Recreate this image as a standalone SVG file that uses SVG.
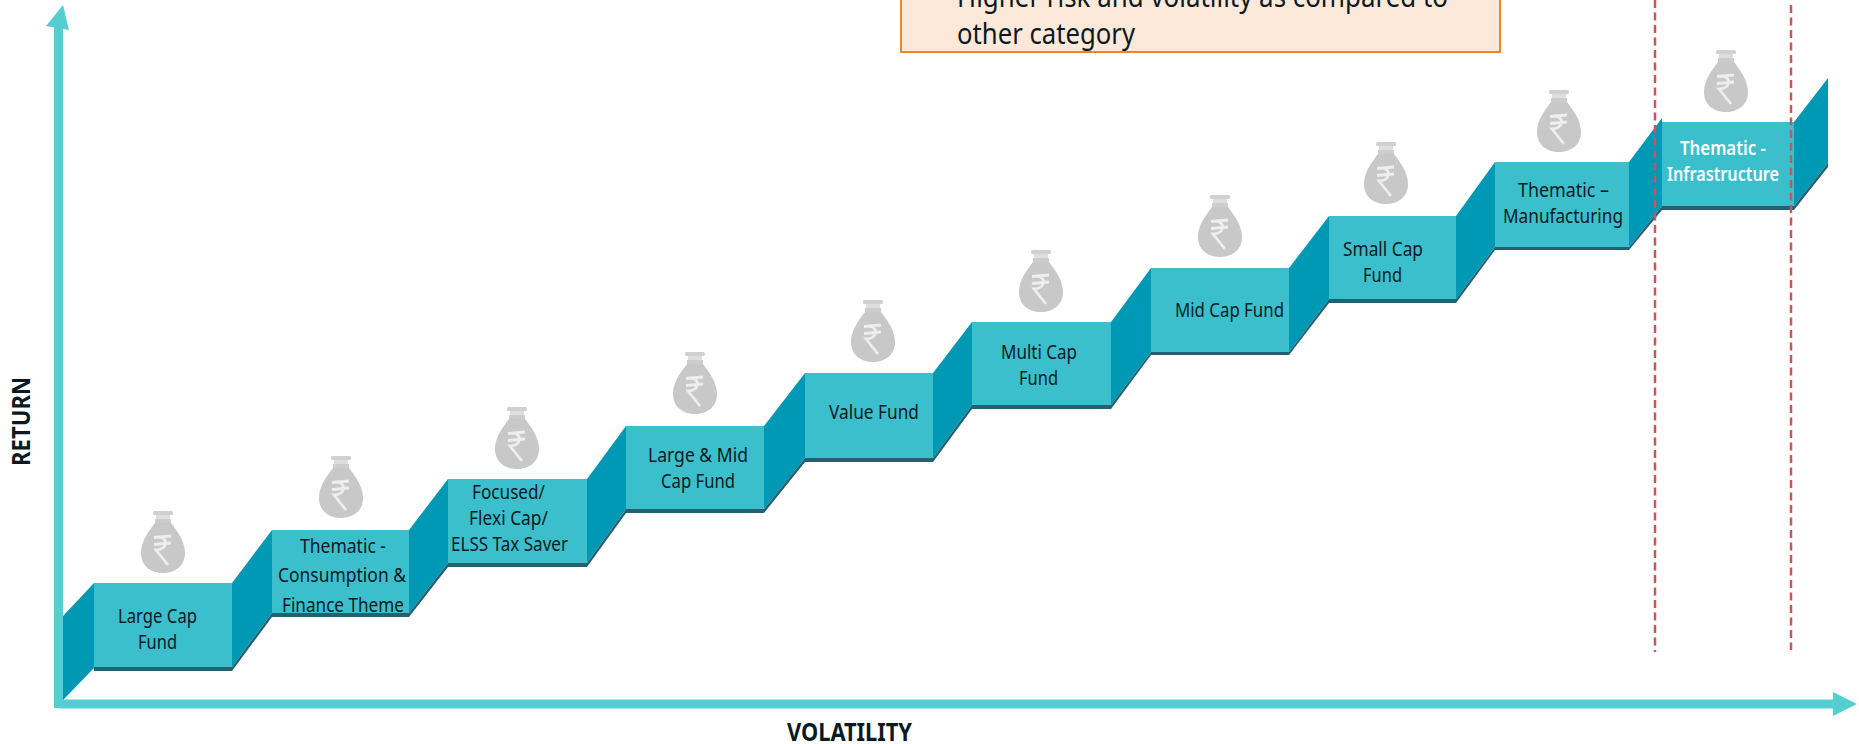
<svg xmlns="http://www.w3.org/2000/svg" width="1859" height="744" viewBox="0 0 1859 744">
<style>
text{font-family:"Noto Sans","Liberation Sans",sans-serif;fill:#0b1a22}
.t{font-size:20px;text-anchor:start}
.w{fill:#fff;font-weight:600}
.face{fill:#3cbfcc}
.band{fill:#245f72}
.slope{fill:#0099b5}
.axis{stroke:#56cdd0;stroke-width:9;fill:none}
.dash{stroke:#c4585a;stroke-width:2.5;stroke-dasharray:8 4.5;fill:none}
.ax{font-size:25px;font-weight:700}
.note{font-size:29px}
</style>
<defs>
<marker id="head" markerUnits="userSpaceOnUse" markerWidth="26" markerHeight="26" refX="0" refY="12" orient="auto"><polygon points="0,0 24,12 0,24" fill="#56cdd0"/></marker>
<symbol id="bag" overflow="visible" viewBox="-22 0 44 62" width="44" height="62" x="-22" y="0">
<rect x="-10" y="0" width="20" height="4" rx="1.5" fill="#d0d0d0"/>
<rect x="-7" y="4" width="14" height="4" fill="#dedede"/>
<rect x="-8" y="8" width="16" height="5" fill="#cdcdcd"/>
<path d="M-8,12C-14,20-22,30-22,42C-22,55-12,62 0,62C12,62 22,55 22,42C22,30 14,20 8,12Z" fill="#c8c8c8"/>
<path d="M-9,26.500L8,25M-9,33.500L8,32M-4,26C5,26 5,39-7,39L5,54" fill="none" stroke="#eeeeee" stroke-width="2.800"/>
</symbol>
</defs>
<g id="connectors">
<line class="axis" x1="58.500" y1="704" x2="1833" y2="704" marker-end="url(#head)"/>
<line class="axis" x1="58.500" y1="708" x2="58.500" y2="26"/>
<polygon points="63,5 46,26 69,30" fill="#56cdd0"/>
</g>
<g id="step-1">
<polygon class="slope" points="63,616 94,583 94,668 63,700"/>
<polygon class="band" points="63,700 94,667 94,671 232,671 232,667 94,667"/>
<rect class="face" x="94" y="583" width="138" height="84"/>
<use href="#bag" x="163" y="511"/>
<text class="t" x="118" y="622.500" textLength="79" lengthAdjust="spacingAndGlyphs">Large Cap</text>
<text class="t" x="138" y="649" textLength="39" lengthAdjust="spacingAndGlyphs">Fund</text>
</g>
<g id="step-2">
<polygon class="slope" points="232,583 272,530 272,613 232,667"/>
<polygon class="band" points="232,667 272,613 272,617 232,671"/>
<polygon class="band" points="272,613 409,613 409,617 272,617"/>
<rect class="face" x="272" y="530" width="137" height="83"/>
<use href="#bag" x="341" y="456"/>
<text class="t" x="300" y="552.500" textLength="86" lengthAdjust="spacingAndGlyphs">Thematic -</text>
<text class="t" x="278" y="581.500" textLength="128" lengthAdjust="spacingAndGlyphs">Consumption &amp;</text>
<text class="t" x="282" y="611.500" textLength="122" lengthAdjust="spacingAndGlyphs">Finance Theme</text>
</g>
<g id="step-3">
<polygon class="slope" points="409,530 448,479 448,563 409,613"/>
<polygon class="band" points="409,613 448,563 448,567 409,617"/>
<polygon class="band" points="448,563 587,563 587,567 448,567"/>
<rect class="face" x="448" y="479" width="139" height="84"/>
<use href="#bag" x="517" y="407"/>
<text class="t" x="472" y="498.500" textLength="73" lengthAdjust="spacingAndGlyphs">Focused/</text>
<text class="t" x="469" y="525" textLength="79" lengthAdjust="spacingAndGlyphs">Flexi Cap/</text>
<text class="t" x="451" y="551" textLength="117" lengthAdjust="spacingAndGlyphs">ELSS Tax Saver</text>
</g>
<g id="step-4">
<polygon class="slope" points="587,479 626,426 626,509 587,563"/>
<polygon class="band" points="587,563 626,509 626,513 587,567"/>
<polygon class="band" points="626,509 764,509 764,513 626,513"/>
<rect class="face" x="626" y="426" width="138" height="83"/>
<use href="#bag" x="695" y="352"/>
<text class="t" x="648" y="461.500" textLength="100" lengthAdjust="spacingAndGlyphs">Large &amp; Mid</text>
<text class="t" x="661" y="487.500" textLength="74" lengthAdjust="spacingAndGlyphs">Cap Fund</text>
</g>
<g id="step-5">
<polygon class="slope" points="764,426 805,373 805,458 764,509"/>
<polygon class="band" points="764,509 805,458 805,462 764,513"/>
<polygon class="band" points="805,458 933,458 933,462 805,462"/>
<rect class="face" x="805" y="373" width="128" height="85"/>
<use href="#bag" x="873" y="300"/>
<text class="t" x="829" y="418.500" textLength="90" lengthAdjust="spacingAndGlyphs">Value Fund</text>
</g>
<g id="step-6">
<polygon class="slope" points="933,373 972,322 972,405 933,458"/>
<polygon class="band" points="933,458 972,405 972,409 933,462"/>
<polygon class="band" points="972,405 1111,405 1111,409 972,409"/>
<rect class="face" x="972" y="322" width="139" height="83"/>
<use href="#bag" x="1041" y="250"/>
<text class="t" x="1001" y="359" textLength="76" lengthAdjust="spacingAndGlyphs">Multi Cap</text>
<text class="t" x="1019" y="384.500" textLength="39" lengthAdjust="spacingAndGlyphs">Fund</text>
</g>
<g id="step-7">
<polygon class="slope" points="1111,322 1151,268 1151,352 1111,405"/>
<polygon class="band" points="1111,405 1151,352 1151,355 1111,409"/>
<polygon class="band" points="1151,352 1289,352 1289,355 1151,355"/>
<rect class="face" x="1151" y="268" width="138" height="84"/>
<use href="#bag" x="1220" y="195"/>
<text class="t" x="1175" y="316.500" textLength="109" lengthAdjust="spacingAndGlyphs">Mid Cap Fund</text>
</g>
<g id="step-8">
<polygon class="slope" points="1289,268 1329,216 1329,299 1289,352"/>
<polygon class="band" points="1289,352 1329,299 1329,303 1289,355"/>
<polygon class="band" points="1329,299 1456,299 1456,303 1329,303"/>
<rect class="face" x="1329" y="216" width="127" height="83"/>
<use href="#bag" x="1386" y="142"/>
<text class="t" x="1343" y="256" textLength="80" lengthAdjust="spacingAndGlyphs">Small Cap</text>
<text class="t" x="1363" y="282" textLength="39" lengthAdjust="spacingAndGlyphs">Fund</text>
</g>
<g id="step-9">
<polygon class="slope" points="1456,216 1495,162 1495,247 1456,299"/>
<polygon class="band" points="1456,299 1495,247 1495,250 1456,303"/>
<polygon class="band" points="1495,247 1629,247 1629,250 1495,250"/>
<rect class="face" x="1495" y="162" width="134" height="85"/>
<use href="#bag" x="1559" y="90"/>
<text class="t" x="1518" y="197" textLength="91" lengthAdjust="spacingAndGlyphs">Thematic –</text>
<text class="t" x="1503" y="223" textLength="120" lengthAdjust="spacingAndGlyphs">Manufacturing</text>
</g>
<g id="step-10">
<polygon class="slope" points="1629,162 1662,118 1662,206 1629,247"/>
<polygon class="band" points="1629,247 1662,206 1662,210 1629,250"/>
<polygon class="band" points="1662,206 1794,206 1794,210 1662,210"/>
<rect class="face" x="1662" y="122" width="132" height="84"/>
<use href="#bag" x="1726" y="50"/>
<text class="t w" x="1680" y="155" textLength="86" lengthAdjust="spacingAndGlyphs">Thematic -</text>
<text class="t w" x="1667" y="181" textLength="112" lengthAdjust="spacingAndGlyphs">Infrastructure</text>
<polygon class="slope" points="1794,122 1828,78 1828,163 1794,206"/>
<polygon class="band" points="1794,206 1828,163 1828,167 1794,210"/>
</g>
<g id="highlight">
<line class="dash" x1="1655" y1="0" x2="1655" y2="652"/>
<line class="dash" x1="1791" y1="5" x2="1791" y2="650"/>
</g>
<g id="note">
<rect x="901" y="-20" width="599" height="72" fill="#fde9d9" stroke="#f58220" stroke-width="2"/>
<text class="note" x="957" y="7" textLength="491" lengthAdjust="spacingAndGlyphs">Higher risk and volatility as compared to</text>
<text class="note" x="957" y="44" textLength="178" lengthAdjust="spacingAndGlyphs">other category</text>
</g>
<g id="labels">
<text class="ax" transform="translate(30,466) rotate(-90)" textLength="89" lengthAdjust="spacingAndGlyphs">RETURN</text>
<text class="ax" x="787" y="741" textLength="125" lengthAdjust="spacingAndGlyphs">VOLATILITY</text>
</g>
</svg>
